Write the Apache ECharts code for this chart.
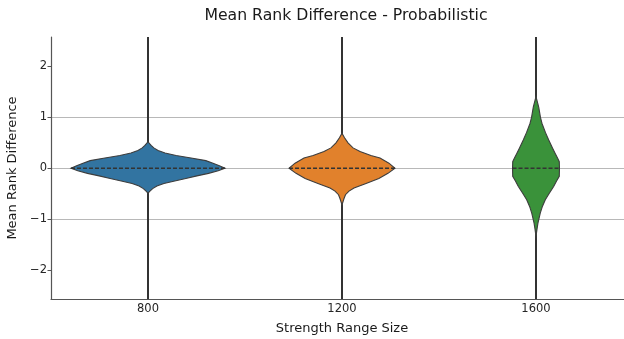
<!DOCTYPE html>
<html>
<head>
<meta charset="utf-8">
<script src="https://cdn.jsdelivr.net/npm/echarts@6/dist/echarts.min.js"></script>
<style>
html,body{margin:0;padding:0;background:#fff;}
#c{width:624px;height:339px;}
</style>
</head>
<body>
<div id="c"></div>
<script>
// ---- data ----
var categories = ['800', '1200', '1600'];
var yTicks = [-2, -1, 0, 1, 2];
var colors = ['#3274a1', '#e1812c', '#3a923a'];
var medians = [0, 0, 0];
var whiskerLow = [-3.0, -3.0, -3.0];
var whiskerHigh = [3.0, 3.0, 3.0];

// violin profiles: y values and density (half-width as fraction of category band)
var blueY = [0.52, 0.45, 0.40, 0.35, 0.30, 0.25, 0.20, 0.15, 0.10, 0.05, 0, -0.05, -0.10, -0.15, -0.20, -0.25, -0.30, -0.35, -0.40, -0.45, -0.49];
var blueD = [0, 0.016, 0.030, 0.052, 0.088, 0.145, 0.222, 0.298, 0.335, 0.368, 0.397, 0.362, 0.312, 0.252, 0.195, 0.138, 0.082, 0.046, 0.024, 0.010, 0];
var orangeY = [0.69, 0.60, 0.50, 0.40, 0.33, 0.25, 0.20, 0.10, 0, -0.10, -0.20, -0.30, -0.39, -0.45, -0.52, -0.60, -0.72];
var orangeD = [0, 0.013, 0.031, 0.057, 0.093, 0.149, 0.196, 0.242, 0.273, 0.237, 0.190, 0.124, 0.062, 0.036, 0.018, 0.010, 0];
var greenY = [1.41, 1.20, 1.00, 0.88, 0.70, 0.56, 0.40, 0.29, 0.20, 0.13, 0, -0.16, -0.25, -0.36, -0.50, -0.62, -0.75, -0.88, -1.08, -1.20, -1.34];
var greenD = [0, 0.014, 0.023, 0.031, 0.049, 0.065, 0.085, 0.099, 0.111, 0.120, 0.121, 0.120, 0.106, 0.091, 0.067, 0.048, 0.033, 0.022, 0.010, 0.005, 0];

var profiles = [[blueY, blueD], [orangeY, orangeD], [greenY, greenD]];

function densityAt(ys, ds, v) {
  for (var i = 0; i < ys.length - 1; i++) {
    var a = ys[i], b = ys[i + 1];
    if ((v <= a && v >= b)) {
      var t = (a - v) / (a - b);
      return ds[i] + t * (ds[i + 1] - ds[i]);
    }
  }
  return 0;
}

var chart = echarts.init(document.getElementById('c'), null, {renderer: 'canvas'});
var FONT = 'DejaVu Sans';
var outline = '#3d3d3d';

function renderViolin(params, api) {
  var idx = api.value(0);
  var ys = profiles[idx][0], ds = profiles[idx][1];
  var band = api.size([1, 0])[0];
  var cx = api.coord([idx, 0])[0];
  var right = [], left = [];
  for (var i = 0; i < ys.length; i++) {
    var p = api.coord([idx, ys[i]]);
    right.push([cx + ds[i] * band, p[1]]);
    left.push([cx - ds[i] * band, p[1]]);
  }
  var pts = right.concat(left.reverse());
  var top = api.coord([idx, whiskerHigh[idx]]);
  var bot = api.coord([idx, whiskerLow[idx]]);
  var med = medians[idx];
  var mw = densityAt(ys, ds, med) * band;
  var my = api.coord([idx, med])[1];
  return {
    type: 'group',
    children: [
      {type: 'line', shape: {x1: cx, y1: top[1], x2: cx, y2: bot[1]},
       style: {stroke: '#333333', lineWidth: 2}},
      {type: 'polygon', shape: {points: pts},
       style: {fill: colors[idx], stroke: outline, lineWidth: 1.1}},
      {type: 'line', shape: {x1: cx - mw, y1: my, x2: cx + mw, y2: my},
       style: {stroke: '#333333', lineWidth: 1.5, lineDash: [4, 2]}}
    ]
  };
}

var option = {
  animation: false,
  backgroundColor: '#ffffff',
  title: {
    text: 'Mean Rank Difference - Probabilistic',
    left: 341, top: 3, textAlign: 'center',
    textStyle: {fontFamily: FONT, fontSize: 15.7, fontWeight: 'normal', color: '#1a1a1a'}
  },
  grid: {left: 51, top: 37, width: 582, height: 262, containLabel: false, outerBoundsMode: 'none'},
  xAxis: {
    type: 'category',
    data: categories,
    name: 'Strength Range Size',
    nameLocation: 'middle',
    nameGap: 23,
    nameTextStyle: {fontFamily: FONT, fontSize: 13, color: '#1a1a1a'},
    axisLine: {onZero: false, lineStyle: {color: '#555555', width: 1.2}},
    axisTick: {show: false},
    axisLabel: {fontFamily: FONT, fontSize: 11.5, color: '#262626', margin: 4},
    splitLine: {show: false}
  },
  yAxis: {
    type: 'value',
    min: -2.57, max: 2.58,
    name: 'Mean Rank Difference',
    nameLocation: 'middle',
    nameGap: 26,
    nameTextStyle: {fontFamily: FONT, fontSize: 13, color: '#1a1a1a'},
    axisLine: {show: true, lineStyle: {color: '#555555', width: 1.2}},
    axisTick: {show: true, length: 3.5, lineStyle: {color: '#555555'}, customValues: yTicks},
    axisLabel: {fontFamily: FONT, fontSize: 11.5, color: '#262626', margin: 4, customValues: yTicks,
      formatter: function (v) { return v < 0 ? '\u2212' + Math.abs(v) : String(v); }},
    splitLine: {show: true, showMinLine: false, showMaxLine: false, lineStyle: {color: '#b8b8b8', width: 1}}
  },
  series: [{
    type: 'custom',
    clip: true,
    renderItem: renderViolin,
    data: categories.map(function (c, i) { return [i]; }),
    encode: {x: 0, y: -1}
  }]
};
chart.setOption(option);
</script>
</body>
</html>
